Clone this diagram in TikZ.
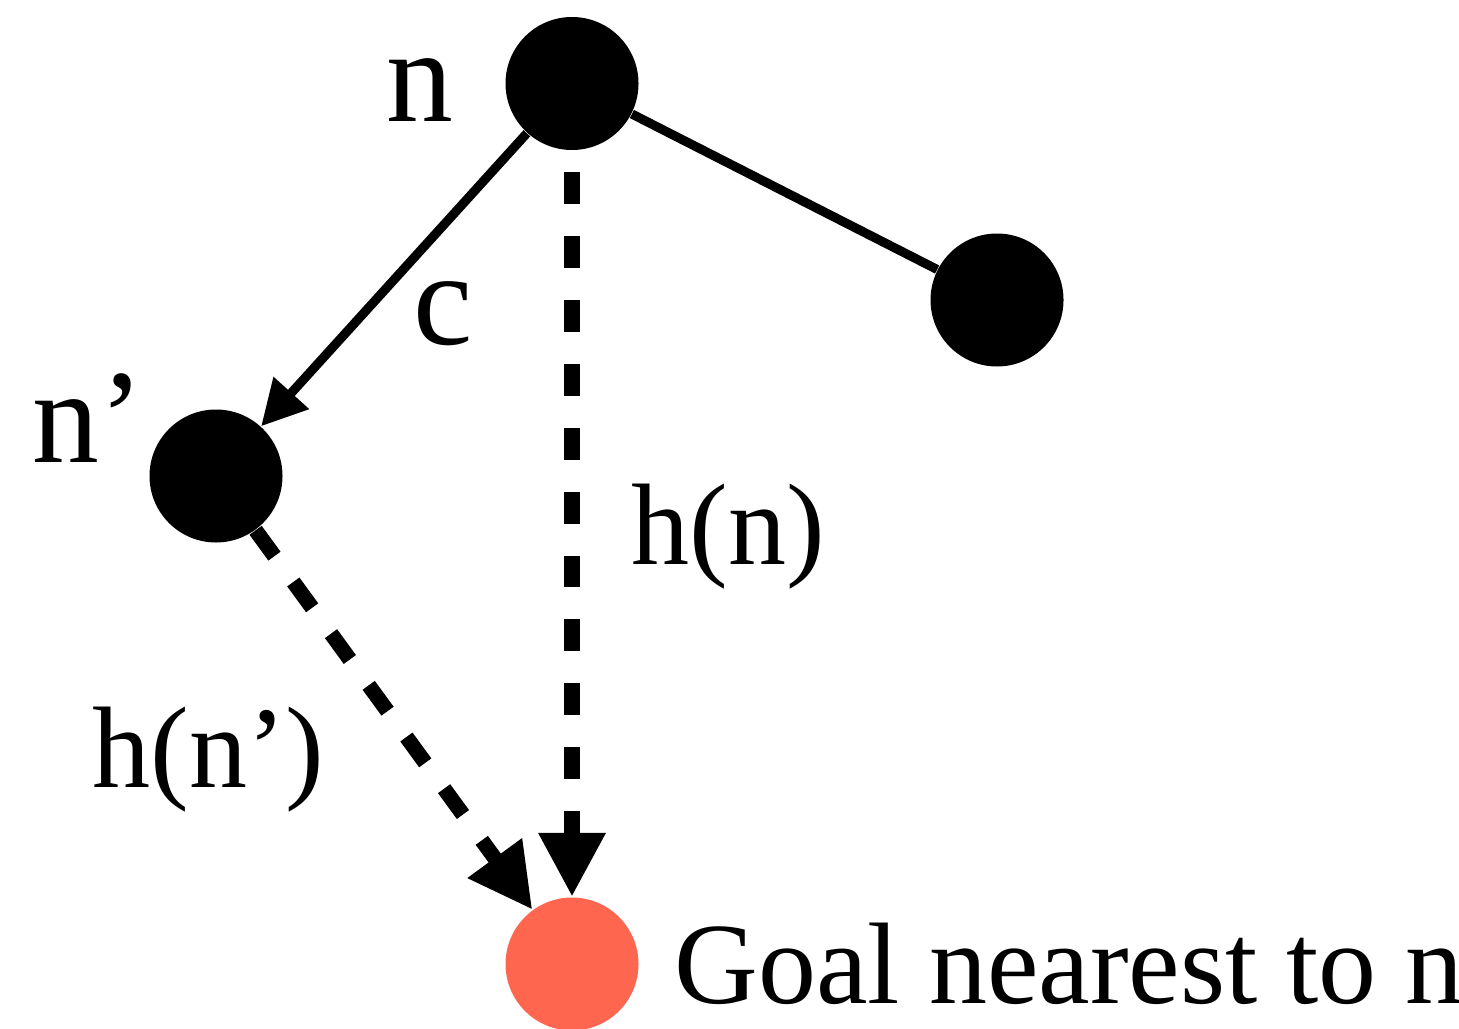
\documentclass[tikz,border=0pt]{standalone}
\usepackage{fontspec}
\setmainfont{Liberation Serif}
\usetikzlibrary{arrows.meta, positioning}
\definecolor{goalred}{RGB}{255, 102, 80}

\begin{document}
\begin{tikzpicture}[
  dot/.style={circle, fill=black, inner sep=0pt, minimum size=1.33cm},
  bigtxt/.style={inner sep=0pt, anchor=base west, font=\fontsize{38}{40}\selectfont},
  txt/.style={inner sep=0pt, anchor=base west, font=\fontsize{33}{36}\selectfont},
  edgeline/.style={line width=2.6pt},
  solidarrow/.style={edgeline, -{Triangle[length=12.8pt, width=13pt]}},
  dasharrow/.style={line width=4.3pt, dash pattern=on 9.1pt off 9.1pt, -{Triangle[length=18.2pt, width=18pt]}}
]
  \useasboundingbox (0,0) rectangle (14.59,-10.28);

  % search tree nodes
  \node[dot] (nn) at (5.72, -0.835) {};
  \node[dot] (nright) at (9.97, -3.00) {};
  \node[dot] (nprime) at (2.16, -4.76) {};
  \node[dot, fill=goalred] (goal) at (5.72, -9.64) {};

  % labels
  \node[bigtxt] (lbln) at (3.86, -1.21) {n};
  \node[bigtxt] (lblnprime) at (0.32, -4.62) {n’};
  \node[bigtxt] (lblc) at (4.13, -3.44) {c};
  \node[txt] (lblhn) at (6.31, -5.64) {h(n)};
  \node[txt] (lblhnprime) at (0.92, -7.87) {h(n’)};
  \node[txt] (lblgoal) at (6.74, -10.03) {Goal nearest to n};

  % edges
  \draw[solidarrow] (nn) -- (nprime);
  \draw[edgeline] (nn) -- (nright);
  \draw[dasharrow, shorten <=0.21cm] (nn) -- (goal);
  \draw[dasharrow] (nprime) -- (goal);
\end{tikzpicture}
\end{document}
